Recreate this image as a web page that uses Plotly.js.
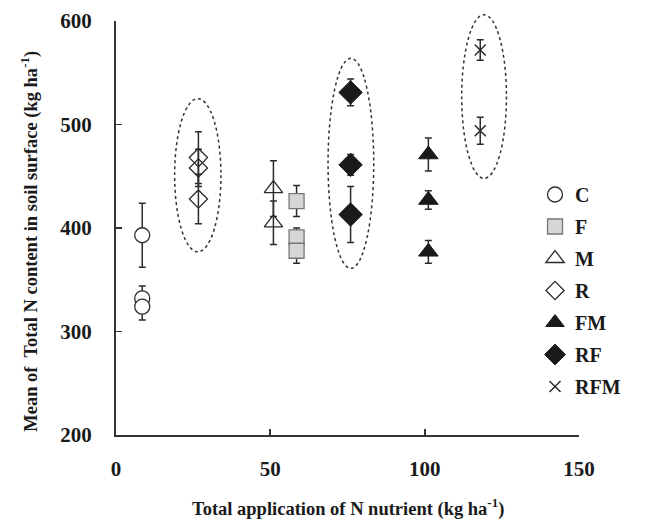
<!DOCTYPE html>
<html>
<head>
<meta charset="utf-8">
<script src="https://cdn.plot.ly/plotly-3.0.1.min.js"></script>
<style>html,body{margin:0;padding:0;background:#fff;}#chart{width:663px;height:522px;}</style>
</head>
<body>
<div id="chart"></div>
<script>
// ---- data ----
const seriesNames = ["C", "F", "M", "R", "FM", "RF", "RFM"];
const cX = [8.5, 8.5, 8.5];       const cY = [393, 332, 324];     const cErr = [31, 12, 13];
const fX = [58.5, 58.5, 58.5];    const fY = [426, 391, 378];     const fErr = [15, 9, 12];
const mX = [51, 51];              const mY = [438, 405];          const mErr = [27, 21];
const rX = [26.7, 26.7, 26.7];    const rY = [468, 458, 428];     const rErr = [25, 18, 24];
const fmX = [101.2, 101.2, 101.2];const fmY = [471, 427, 377];    const fmErr = [16, 9, 11];
const rfX = [76, 76, 76];         const rfY = [531, 461, 413];    const rfErr = [13, 10, 27];
const rfmX = [118, 118];          const rfmY = [572, 494];        const rfmErr = [10, 13];
// dotted ellipses (data units) around R, RF and RFM groups
const ellX0 = [19, 68.7, 112];
const ellX1 = [34, 83.5, 126.5];
const ellY0 = [377, 361, 448];
const ellY1 = [525, 564, 606];
const xTicks = [0, 50, 100, 150];
const yTicks = [200, 300, 400, 500, 600];
const xRange = [0, 150];
const yRange = [200, 600];

const dark = '#2b2b2b';
const serif = 'Liberation Serif, Times New Roman, serif';

function errBar(arr) {
  return {type: 'data', array: arr, visible: true, color: dark, thickness: 1.5, width: 3.5};
}
function tr(name, x, y, err, marker, i) {
  return {
    type: 'scatter', mode: 'markers', name: name, x: x, y: y,
    error_y: errBar(err), marker: marker, legendgroup: 'g' + i,
    cliponaxis: false
  };
}
const traces = [
  tr(seriesNames[0], cX, cY, cErr, {symbol: 'circle', size: 15, color: '#fff', line: {color: dark, width: 1.3}}, 0),
  tr(seriesNames[1], fX, fY, fErr, {symbol: 'square', size: 15, color: '#d6d6d6', line: {color: '#777', width: 1.3}}, 1),
  tr(seriesNames[2], mX, mY, mErr, {symbol: 'triangle-up-open', size: 16, color: dark, line: {color: dark, width: 1.3}}, 2),
  tr(seriesNames[3], rX, rY, rErr, {symbol: 'diamond-open', size: 14, color: dark, line: {color: dark, width: 1.3}}, 3),
  tr(seriesNames[4], fmX, fmY, fmErr, {symbol: 'triangle-up', size: 17, color: '#1a1a1a', line: {color: '#1a1a1a', width: 1}}, 4),
  tr(seriesNames[5], rfX, rfY, rfErr, {symbol: 'diamond', size: 18, color: '#1a1a1a', line: {color: '#1a1a1a', width: 1}}, 5),
  tr(seriesNames[6], rfmX, rfmY, rfmErr, {symbol: 'x-thin-open', size: 11, color: dark, line: {color: dark, width: 1.5}}, 6)
];

const shapes = ellX0.map((v, i) => ({
  type: 'circle', xref: 'x', yref: 'paper',
  x0: ellX0[i], x1: ellX1[i],
  y0: (ellY0[i] - yRange[0]) / (yRange[1] - yRange[0]),
  y1: (ellY1[i] - yRange[0]) / (yRange[1] - yRange[0]),
  line: {color: '#333', width: 1.5, dash: 'dot'}, layer: 'below'
}));

const axisCommon = {
  showgrid: false, zeroline: false, showline: true, linecolor: '#333', linewidth: 2,
  ticks: 'inside', ticklen: 6, tickwidth: 1.8, tickcolor: '#333',
  tickfont: {family: serif, size: 21, color: '#1a1a1a', weight: 'bold'}
};

const layout = {
  width: 663, height: 522,
  margin: {l: 116, r: 84, t: 21, b: 87},
  paper_bgcolor: '#fff', plot_bgcolor: '#fff',
  showlegend: true,
  legend: {
    x: 0.905, y: 0.628, xanchor: 'left', yanchor: 'top',
    traceorder: 'grouped', tracegroupgap: 3,
    font: {family: serif, size: 20, color: '#1a1a1a', weight: 'bold'},
    bgcolor: 'rgba(0,0,0,0)', borderwidth: 0
  },
  xaxis: Object.assign({}, axisCommon, {range: xRange, tickvals: xTicks, ticklabelstandoff: 14}),
  yaxis: Object.assign({}, axisCommon, {range: yRange, tickvals: yTicks, ticklabelstandoff: 18}),
  shapes: shapes,
  annotations: [
    {text: 'Total application of N nutrient (kg ha<sup>-1</sup>)', xref: 'paper', yref: 'paper',
     x: 0.5, y: -0.176, xanchor: 'center', yanchor: 'middle', showarrow: false,
     font: {family: serif, size: 18.5, color: '#1a1a1a', weight: 'bold'}},
    {text: 'Mean of  Total N content in soil surface (kg ha<sup>-1</sup>)', xref: 'paper', yref: 'paper',
     x: -0.186, y: 0.469, xanchor: 'center', yanchor: 'middle', textangle: -90, showarrow: false,
     font: {family: serif, size: 18.5, color: '#1a1a1a', weight: 'bold'}}
  ]
};

Plotly.newPlot('chart', traces, layout, {displayModeBar: false, staticPlot: true});
</script>
</body>
</html>
